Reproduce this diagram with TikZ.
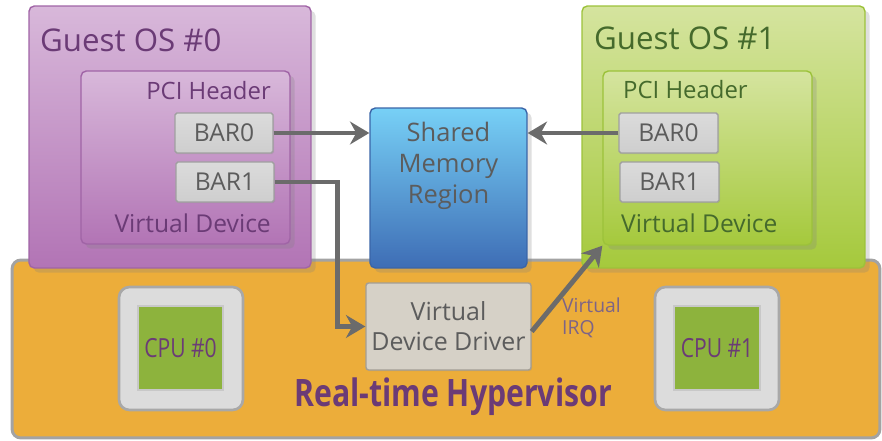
\documentclass[tikz,border=0pt]{standalone}
\usepackage{fontspec}
\setmainfont{Open Sans}
\newfontfamily\condfont[FakeStretch=0.8]{Open Sans}
\usetikzlibrary{arrows.meta, shadows}

\definecolor{purpletxt}{HTML}{6B3B76}
\definecolor{greentxt}{HTML}{456A2C}
\definecolor{graytxt}{HTML}{5C5C5C}
\definecolor{arrowgray}{HTML}{6B6B6B}
\definecolor{purpletop}{HTML}{D8B8DA}
\definecolor{purplebot}{HTML}{B274B5}
\definecolor{purpleline}{HTML}{A064A6}

\tikzset{
    box/.style={rounded corners=3pt, inner sep=0pt, line width=0.8pt},
    guestzero/.style={box, draw=purpleline, top color=purpletop, bottom color=purplebot},
    guestone/.style={box, draw={rgb,255:red,156;green,194;blue,58}, top color={rgb,255:red,213;green,228;blue,159}, bottom color={rgb,255:red,165;green,201;blue,60}},
    bar/.style={box, rounded corners=1pt, draw={rgb,255:red,160;green,160;blue,160}, top color={rgb,255:red,219;green,219;blue,219}, bottom color={rgb,255:red,206;green,206;blue,206}, font=\fontsize{14}{16}\selectfont, text=graytxt, drop shadow={opacity=0.2, shadow xshift=0.6pt, shadow yshift=-0.6pt}},
    link/.style={-{Stealth[length=11pt, width=13pt]}, line width=2.8pt, draw=arrowgray},
    cpubox/.style={box, rounded corners=6pt, fill={rgb,255:red,220;green,220;blue,220}, draw={rgb,255:red,168;green,168;blue,168}, line width=1.5pt},
    cpucore/.style={inner sep=0pt, fill={rgb,255:red,141;green,179;blue,61}, draw={rgb,255:red,200;green,200;blue,200}, line width=1pt, text=purpletxt, font=\condfont\fontsize{15}{17}\selectfont}
}

\begin{document}
\begin{tikzpicture}[x=0.02cm, y=-0.02cm]
    \useasboundingbox (0,0) rectangle (882,440);

    \node[box, rounded corners=5pt, minimum width=17.36cm, minimum height=3.56cm, fill={rgb,255:red,236;green,173;blue,58}, draw={rgb,255:red,163;green,163;blue,163}, line width=1.7pt] (hyp) at (446,349) {};

    \node[guestzero, minimum width=5.64cm, minimum height=5.24cm, drop shadow={opacity=0.25}] (guest0) at (170,137) {};
    \node[guestzero, minimum width=4.18cm, minimum height=3.46cm, drop shadow={opacity=0.25}] (vdev0) at (185.5,157.5) {};
    \node[guestone, minimum width=5.66cm, minimum height=5.24cm, drop shadow={opacity=0.25}] (guest1) at (723.5,137) {};
    \node[guestone, minimum width=4.18cm, minimum height=3.48cm, drop shadow={opacity=0.25}] (vdev1) at (707.5,158) {};

    \node[anchor=west, text=purpletxt, font=\fontsize{17.8}{20}\selectfont] (title0) at (34,40) {Guest OS \#0};
    \node[anchor=west, text=greentxt, font=\fontsize{17.8}{20}\selectfont] (title1) at (588,38) {Guest OS \#1};
    \node[anchor=east, text=purpletxt, font=\fontsize{13.6}{15}\selectfont] (pci0) at (277,91) {PCI Header};
    \node[anchor=west, text=greentxt, font=\fontsize{13.6}{15}\selectfont] (pci1) at (617,90) {PCI Header};
    \node[anchor=east, text=purpletxt, font=\fontsize{14}{16}\selectfont] (vlab0) at (277,223) {Virtual Device};
    \node[anchor=west, text=greentxt, font=\fontsize{14}{16}\selectfont] (vlab1) at (615,223) {Virtual Device};

    \node[bar, minimum width=1.96cm, minimum height=0.8cm] (bar00) at (224,133) {BAR0};
    \node[bar, minimum width=1.96cm, minimum height=0.8cm] (bar01) at (225,182) {BAR1};
    \node[bar, minimum width=1.98cm, minimum height=0.8cm] (bar10) at (668.5,133) {BAR0};
    \node[bar, minimum width=1.98cm, minimum height=0.8cm] (bar11) at (669.5,182) {BAR1};

    \node[box, minimum width=3.14cm, minimum height=3.2cm, draw={rgb,255:red,58;green,101;blue,168}, top color={rgb,255:red,119;green,208;blue,246}, bottom color={rgb,255:red,62;green,109;blue,181}, drop shadow={opacity=0.25}] (shm) at (448.5,188) {};
    \node[align=center, text=graytxt, font=\fontsize{14.5}{17.5}\selectfont, anchor=north] (shmlab) at (448.5,116) {Shared\\Memory\\Region};

    \node[box, rounded corners=1.5pt, minimum width=3.3cm, minimum height=1.74cm, fill={rgb,255:red,214;green,209;blue,199}, draw={rgb,255:red,163;green,158;blue,149}, align=center, text=graytxt, font=\fontsize{14.2}{17}\selectfont, drop shadow={opacity=0.2, shadow xshift=0.6pt, shadow yshift=-0.6pt}] (vdd) at (448.5,326.5) {Virtual\\Device Driver};

    \node[cpubox, minimum width=2.48cm, minimum height=2.46cm] (cpu0) at (181,348.5) {};
    \node[cpucore, minimum width=1.7cm, minimum height=1.68cm] (core0) at (180.5,348) {CPU \#0};
    \node[cpubox, minimum width=2.48cm, minimum height=2.46cm] (cpu1) at (717,348.5) {};
    \node[cpucore, minimum width=1.72cm, minimum height=1.68cm] (core1) at (717,348) {CPU \#1};

    \node[text=purpletxt, font=\condfont\bfseries\fontsize{21.5}{24}\selectfont] (hyplab) at (453,397) {Real-time Hypervisor};
    \node[anchor=west, align=left, text={rgb,255:red,125;green,100;blue,135}, font=\fontsize{11}{12.5}\selectfont] (irq) at (556,318) {Virtual\\IRQ};

    \draw[link] (bar00.east) -- (shm.west |- bar00.east);
    \draw[link] (bar10.west) -- (shm.east |- bar10.west);
    \draw[link] (bar01.east) -| ([xshift=-0.56cm]vdd.west) -- (vdd.west);
    \draw[link] ([yshift=-0.1cm]vdd.east) -- (vdev1.south west);
\end{tikzpicture}
\end{document}
